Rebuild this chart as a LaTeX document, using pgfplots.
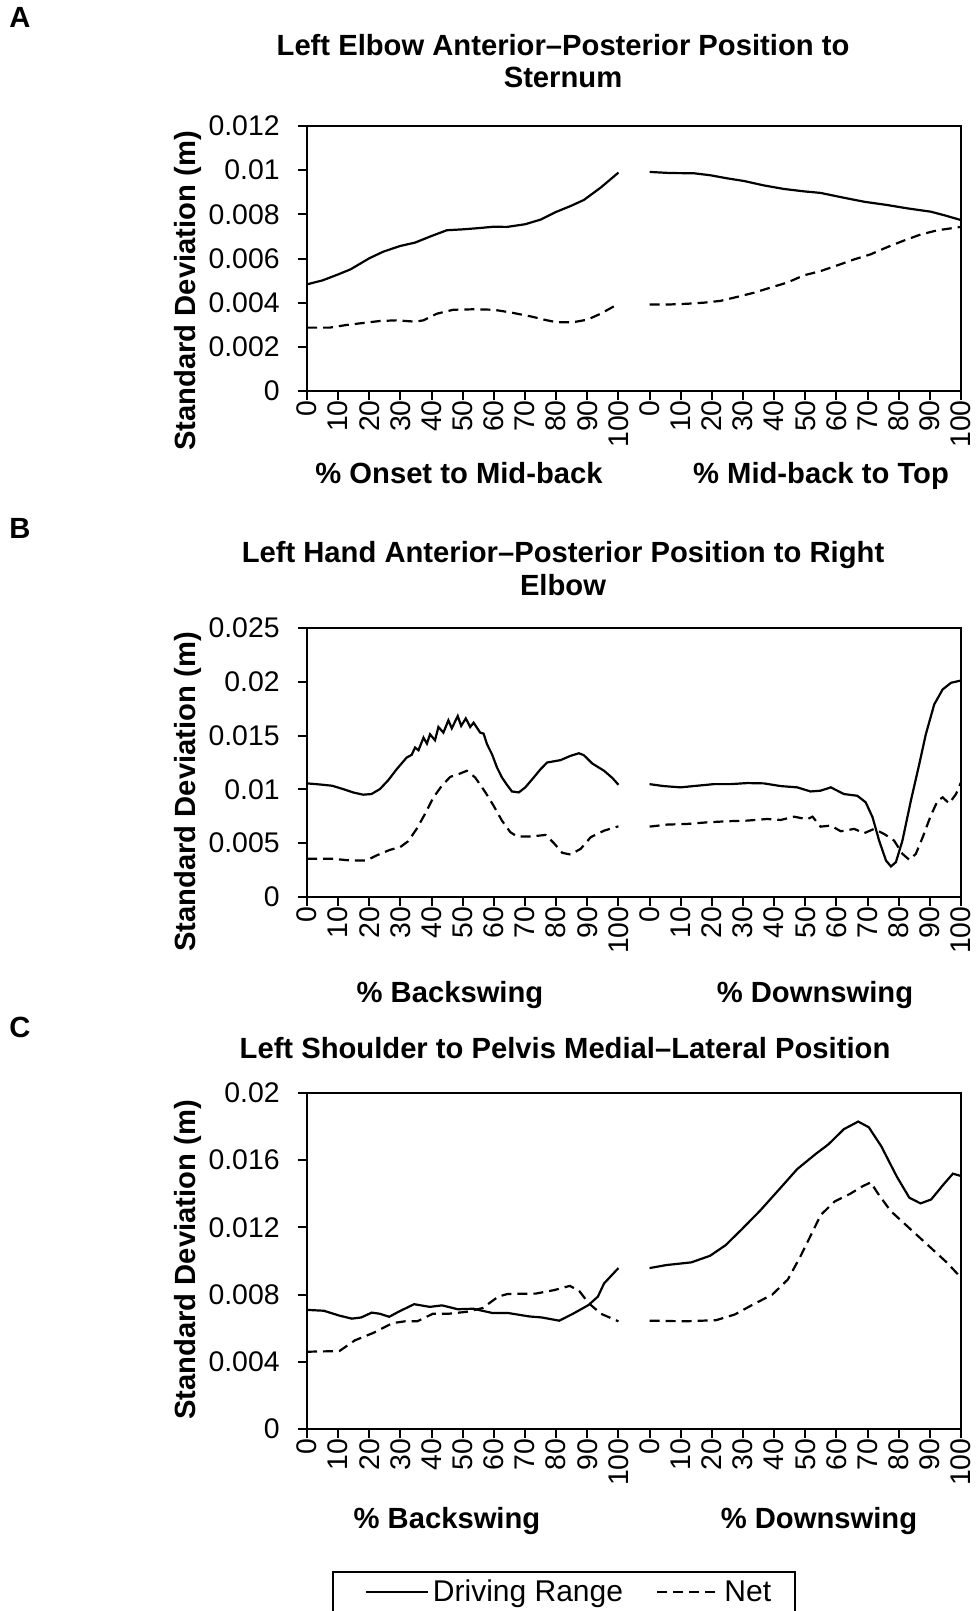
\documentclass[border=0pt]{standalone}
\usepackage{fontspec}
\setmainfont{Liberation Sans}
\usepackage{pgfplots}
\pgfplotsset{compat=1.18}
\newcommand\tickfont{\fontsize{14.2}{17}\selectfont}
\newcommand\ttlfont{\fontsize{14.6}{16.25}\selectfont\bfseries}
\tikzset{xl/.style={font=\ttlfont, text height=10.5pt, text depth=3pt}}
\pgfplotsset{
  panel/.style={
    scale only axis, width=327pt, xmin=0, xmax=21, clip=false,
    axis line style={line width=1pt},
    every tick/.style={line width=1pt, black},
    tick align=outside, major tick length=4.5pt,
    xtick={0,...,21},
    xticklabels={0,10,20,30,40,50,60,70,80,90,100,0,10,20,30,40,50,60,70,80,90,100},
    xtick pos=bottom, ytick pos=left,
    xticklabel style={rotate=90, anchor=east, inner sep=0pt, font=\tickfont},
    yticklabel style={anchor=east, inner sep=0pt, font=\tickfont, xshift=-9pt},
    scaled y ticks=false,
    /pgf/number format/assume math mode=true,
  },
  dr/.style={black, line width=1.1pt, no markers},
  nt/.style={black, line width=1.1pt, dash pattern=on 5pt off 3pt, no markers},
}
\begin{document}
\begin{tikzpicture}
\useasboundingbox (0,0) rectangle (488pt,-805.5pt);
% ---------- Panel A
\node[font=\ttlfont] at (10pt,-8.5pt) {A};
\node[font=\ttlfont, align=center] at (281.5pt,-30.5pt) {Left Elbow Anterior–Posterior Position to\\Sternum};
\node[font=\ttlfont, rotate=90] at (93.75pt,-145.5pt) {Standard Deviation (m)};
\node[xl] at (229.5pt,-238pt) {\% Onset to Mid-back};
\node[xl] at (410.5pt,-238pt) {\% Mid-back to Top};
\begin{axis}[panel, at={(153.5pt,-195.5pt)}, anchor=south west, height=132.5pt,
  ymin=0, ymax=0.012, ytick={0,0.002,0.004,0.006,0.008,0.01,0.012},
  yticklabels={0,0.002,0.004,0.006,0.008,0.01,0.012}]
\addplot[dr] coordinates {(0,0.00483) (0.5,0.00501) (1,0.00528) (1.4,0.00551) (2,0.00601) (2.45,0.00631) (3,0.00657) (3.47,0.00672) (4,0.00702) (4.49,0.00728) (5,0.00732) (5.46,0.00737) (6,0.00744) (6.42,0.00743) (7,0.00755) (7.5,0.00776) (8,0.00811) (8.47,0.00838) (8.89,0.00865) (9.43,0.00921) (10,0.00989)};
\addplot[dr] coordinates {(11,0.00992) (11.67,0.00987) (12.42,0.00986) (12.95,0.00977) (13.49,0.00963) (14.03,0.00951) (14.67,0.00931) (15.31,0.00915) (15.96,0.00904) (16.49,0.00897) (17.14,0.00878) (17.89,0.00857) (18.64,0.00842) (19.28,0.00827) (20.03,0.00812) (20.46,0.00796) (21,0.00774)};
\addplot[nt] coordinates {(0,0.00287) (0.73,0.00287) (1.27,0.00299) (1.8,0.00308) (2.34,0.00317) (2.88,0.0032) (3.47,0.00314) (3.74,0.0032) (4.17,0.0035) (4.7,0.00368) (5.35,0.0037) (5.99,0.00368) (6.53,0.00356) (7.18,0.00338) (7.71,0.0032) (8.03,0.00311) (8.57,0.00312) (9.0,0.00323) (9.43,0.0035) (10,0.00395)};
\addplot[nt] coordinates {(11,0.00392) (11.67,0.00392) (12.2,0.00395) (12.74,0.004) (13.27,0.00408) (13.81,0.00426) (14.35,0.00445) (14.88,0.00468) (15.42,0.00491) (15.96,0.00524) (16.49,0.00543) (17.03,0.00569) (17.57,0.00596) (18.1,0.00619) (18.64,0.00652) (19.18,0.00682) (19.71,0.00709) (20.25,0.00728) (21,0.00743)};
\end{axis}
% ---------- Panel B
\node[font=\ttlfont] at (10pt,-264pt) {B};
\node[font=\ttlfont, align=center] at (281.5pt,-284.25pt) {Left Hand Anterior–Posterior Position to Right\\Elbow};
\node[font=\ttlfont, rotate=90] at (93.75pt,-396pt) {Standard Deviation (m)};
\node[xl] at (225pt,-497.6pt) {\% Backswing};
\node[xl] at (407.5pt,-497.6pt) {\% Downswing};
\begin{axis}[panel, at={(153.5pt,-448.5pt)}, anchor=south west, height=134.5pt,
  ymin=0, ymax=0.025, ytick={0,0.005,0.01,0.015,0.02,0.025},
  yticklabels={0,0.005,0.01,0.015,0.02,0.025}]
\addplot[dr] coordinates {(0,0.01056) (0.41,0.01046) (0.81,0.01034) (1.16,0.01003) (1.48,0.00972) (1.8,0.00951) (2.07,0.00957) (2.34,0.01003) (2.61,0.01086) (2.88,0.01188) (3.2,0.01296) (3.36,0.01321) (3.47,0.01389) (3.58,0.01364) (3.74,0.01481) (3.85,0.01426) (3.95,0.01512) (4.11,0.01457) (4.22,0.0158) (4.38,0.01528) (4.54,0.01642) (4.65,0.01568) (4.84,0.01682) (4.95,0.0159) (5.1,0.0166) (5.24,0.0158) (5.35,0.0162) (5.56,0.01528) (5.67,0.01519) (5.78,0.0142) (5.94,0.01327) (6.1,0.01204) (6.26,0.01111) (6.42,0.01043) (6.58,0.00981) (6.8,0.00972) (7.01,0.01019) (7.28,0.01111) (7.5,0.01188) (7.71,0.0125) (8.14,0.01272) (8.46,0.01312) (8.73,0.01336) (8.89,0.01318) (9.16,0.01241) (9.54,0.01173) (9.81,0.01105) (10,0.01043)};
\addplot[dr] coordinates {(11,0.01049) (11.45,0.01031) (11.99,0.01019) (12.52,0.01034) (13.06,0.01049) (13.6,0.01049) (14.13,0.01059) (14.67,0.01056) (15.21,0.01031) (15.74,0.01019) (16.17,0.00981) (16.49,0.00988) (16.82,0.01019) (17.03,0.00988) (17.24,0.00957) (17.67,0.00941) (17.94,0.0088) (18.16,0.00741) (18.37,0.00525) (18.59,0.0034) (18.75,0.00284) (18.91,0.00324) (19.12,0.00525) (19.39,0.00895) (19.66,0.01235) (19.87,0.01512) (20.14,0.0179) (20.41,0.01929) (20.68,0.01991) (21,0.02012)};
\addplot[nt] coordinates {(0,0.00355) (0.84,0.00355) (1.37,0.0034) (1.91,0.0034) (2.23,0.00386) (2.66,0.00438) (2.99,0.00463) (3.25,0.00519) (3.52,0.00633) (3.79,0.00772) (4.06,0.00926) (4.33,0.01034) (4.6,0.01117) (4.87,0.01142) (5.13,0.01173) (5.4,0.01111) (5.73,0.00972) (5.99,0.00849) (6.26,0.0071) (6.53,0.00602) (6.75,0.00562) (7.18,0.00562) (7.66,0.00577) (7.93,0.005) (8.2,0.0041) (8.46,0.00395) (8.79,0.00448) (9.11,0.00556) (9.54,0.00617) (10,0.00657)};
\addplot[nt] coordinates {(11,0.00654) (11.56,0.00673) (12.2,0.00679) (12.85,0.00694) (13.49,0.00704) (14.13,0.0071) (14.78,0.00725) (15.21,0.00716) (15.64,0.00747) (16.06,0.00722) (16.23,0.00747) (16.49,0.00654) (16.82,0.00664) (17.14,0.00611) (17.57,0.00633) (17.89,0.00593) (18.21,0.00633) (18.53,0.00586) (18.85,0.00525) (19.12,0.00401) (19.34,0.00346) (19.55,0.00401) (19.77,0.00556) (20.03,0.00756) (20.25,0.00895) (20.41,0.00926) (20.62,0.0087) (20.84,0.00957) (21,0.01065)};
\end{axis}
% ---------- Panel C
\node[font=\ttlfont] at (10pt,-513.5pt) {C};
\node[font=\ttlfont] at (282.5pt,-524.25pt) {Left Shoulder to Pelvis Medial–Lateral Position};
\node[font=\ttlfont, rotate=90] at (93.75pt,-630pt) {Standard Deviation (m)};
\node[xl] at (223.5pt,-760.5pt) {\% Backswing};
\node[xl] at (409.5pt,-760.5pt) {\% Downswing};
\begin{axis}[panel, at={(153.5pt,-714.5pt)}, anchor=south west, height=168pt,
  ymin=0, ymax=0.02, ytick={0,0.004,0.008,0.012,0.016,0.02},
  yticklabels={0,0.004,0.008,0.012,0.016,0.02},
  legend columns=2,
  legend style={at={(0.0382,-0.423)}, anchor=north west, draw=black, line width=0.8pt,
    font=\fontsize{15}{17}\selectfont, inner xsep=10pt, inner ysep=2pt,
    /tikz/every even column/.append style={column sep=8.6pt}},
  legend image code/.code={\path (0pt,0pt); \draw[#1] (6pt,0pt) -- (37pt,0pt);}]
\addplot[dr] coordinates {(0,0.00709) (0.54,0.00704) (1.04,0.00675) (1.44,0.00657) (1.74,0.00664) (2.08,0.00693) (2.34,0.00686) (2.64,0.00668) (2.94,0.00698) (3.44,0.00743) (3.94,0.00727) (4.34,0.00736) (4.84,0.00713) (5.34,0.00716) (5.94,0.00691) (6.44,0.00691) (7.14,0.0067) (7.54,0.00664) (8.1,0.00645) (8.54,0.00686) (9.04,0.00738) (9.34,0.00788) (9.54,0.00867) (10,0.00958)};
\addlegendentry{Driving Range}
\addplot[nt] coordinates {(0,0.0046) (1.04,0.00464) (1.54,0.00528) (2.14,0.00573) (2.74,0.0063) (3.14,0.00641) (3.54,0.00641) (4.04,0.00686) (4.54,0.00686) (5.14,0.00698) (5.64,0.0072) (6.14,0.00788) (6.44,0.00804) (7.34,0.00806) (7.94,0.00827) (8.44,0.00852) (8.74,0.00822) (9.04,0.0075) (9.44,0.00686) (10,0.00641)};
\addlegendentry{Net}
\addplot[dr, forget plot] coordinates {(11,0.00958) (11.54,0.00976) (12.34,0.00992) (12.94,0.01031) (13.44,0.01094) (13.94,0.01185) (14.54,0.01298) (15.14,0.01422) (15.74,0.01547) (16.34,0.01638) (16.74,0.01694) (17.24,0.01785) (17.7,0.0183) (18.04,0.01796) (18.44,0.01683) (18.94,0.01502) (19.34,0.01377) (19.7,0.01343) (20.04,0.01366) (20.44,0.01456) (20.74,0.0152) (21,0.01506)};
\addplot[nt, forget plot] coordinates {(11,0.00645) (12.14,0.00641) (13.14,0.00648) (13.74,0.00682) (14.34,0.00743) (14.94,0.008) (15.44,0.0089) (15.84,0.01026) (16.14,0.01139) (16.5,0.01275) (16.94,0.01354) (17.44,0.014) (17.84,0.01445) (18.1,0.01468) (18.34,0.014) (18.74,0.01298) (19.34,0.01196) (19.94,0.01094) (20.54,0.00992) (21,0.00901)};
\end{axis}
\end{tikzpicture}
\end{document}
